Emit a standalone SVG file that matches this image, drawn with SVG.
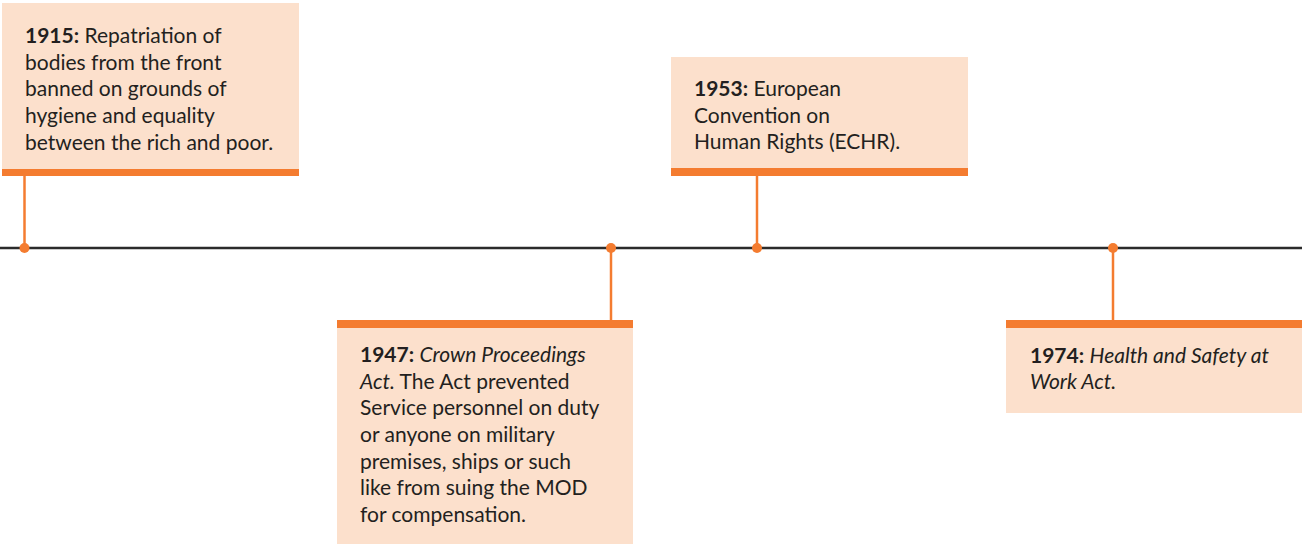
<svg xmlns="http://www.w3.org/2000/svg" width="1302" height="544" viewBox="0 0 1302 544">
  <style>
    .card { fill: #fce0cc; }
    .bar { fill: #f47c30; }
    .stem { stroke: #f47c30; stroke-width: 2.5; fill: none; }
    .dot { fill: #f47c30; }
    .axis { stroke: #2b2b2b; stroke-width: 2.5; }
    text { font-family: Lato, "Open Sans", "Liberation Sans", sans-serif; font-size: 21px; fill: #231f20; }
    .yr { font-weight: bold; }
    .it { font-style: italic; }
  </style>
  <rect width="1302" height="544" fill="#ffffff"/>

  <!-- timeline axis and stems -->
  <g id="connectors">
    <line class="axis" x1="0" y1="248" x2="1302" y2="248"/>
    <line class="stem" x1="24.5" y1="175" x2="24.5" y2="248"/>
    <line class="stem" x1="611" y1="248" x2="611" y2="322"/>
    <line class="stem" x1="757" y1="175" x2="757" y2="248"/>
    <line class="stem" x1="1113" y1="248" x2="1113" y2="322"/>
    <circle class="dot" cx="24.5" cy="248" r="5"/>
    <circle class="dot" cx="611" cy="248" r="5"/>
    <circle class="dot" cx="757" cy="248" r="5"/>
    <circle class="dot" cx="1113" cy="248" r="5"/>
  </g>

  <g id="event-1915">
    <rect class="card" x="2" y="3" width="297" height="167"/>
    <rect class="bar" x="2" y="169" width="297" height="7"/>
    <text x="25" y="43"><tspan class="yr">1915:</tspan> Repatriation of</text>
    <text x="25" y="70">bodies from the front</text>
    <text x="25" y="96">banned on grounds of</text>
    <text x="25" y="123">hygiene and equality</text>
    <text x="25" y="150">between the rich and poor.</text>
  </g>

  <g id="event-1947">
    <rect class="card" x="337" y="321" width="296" height="223"/>
    <rect class="bar" x="337" y="320" width="296" height="8"/>
    <text x="360" y="362"><tspan class="yr">1947:</tspan> <tspan class="it">Crown Proceedings</tspan></text>
    <text x="360" y="389"><tspan class="it">Act.</tspan> The Act prevented</text>
    <text x="360" y="415">Service personnel on duty</text>
    <text x="360" y="442">or anyone on military</text>
    <text x="360" y="469">premises, ships or such</text>
    <text x="360" y="495">like from suing the MOD</text>
    <text x="360" y="522">for compensation.</text>
  </g>

  <g id="event-1953">
    <rect class="card" x="671" y="57" width="297" height="112"/>
    <rect class="bar" x="671" y="168" width="297" height="8"/>
    <text x="694" y="96"><tspan class="yr">1953:</tspan> European</text>
    <text x="694" y="123">Convention on</text>
    <text x="694" y="149">Human Rights (ECHR).</text>
  </g>

  <g id="event-1974">
    <rect class="card" x="1006" y="321" width="296" height="92"/>
    <rect class="bar" x="1006" y="320" width="296" height="8"/>
    <text x="1030" y="363"><tspan class="yr">1974:</tspan> <tspan class="it">Health and Safety at</tspan></text>
    <text x="1030" y="389"><tspan class="it">Work Act.</tspan></text>
  </g>
</svg>
